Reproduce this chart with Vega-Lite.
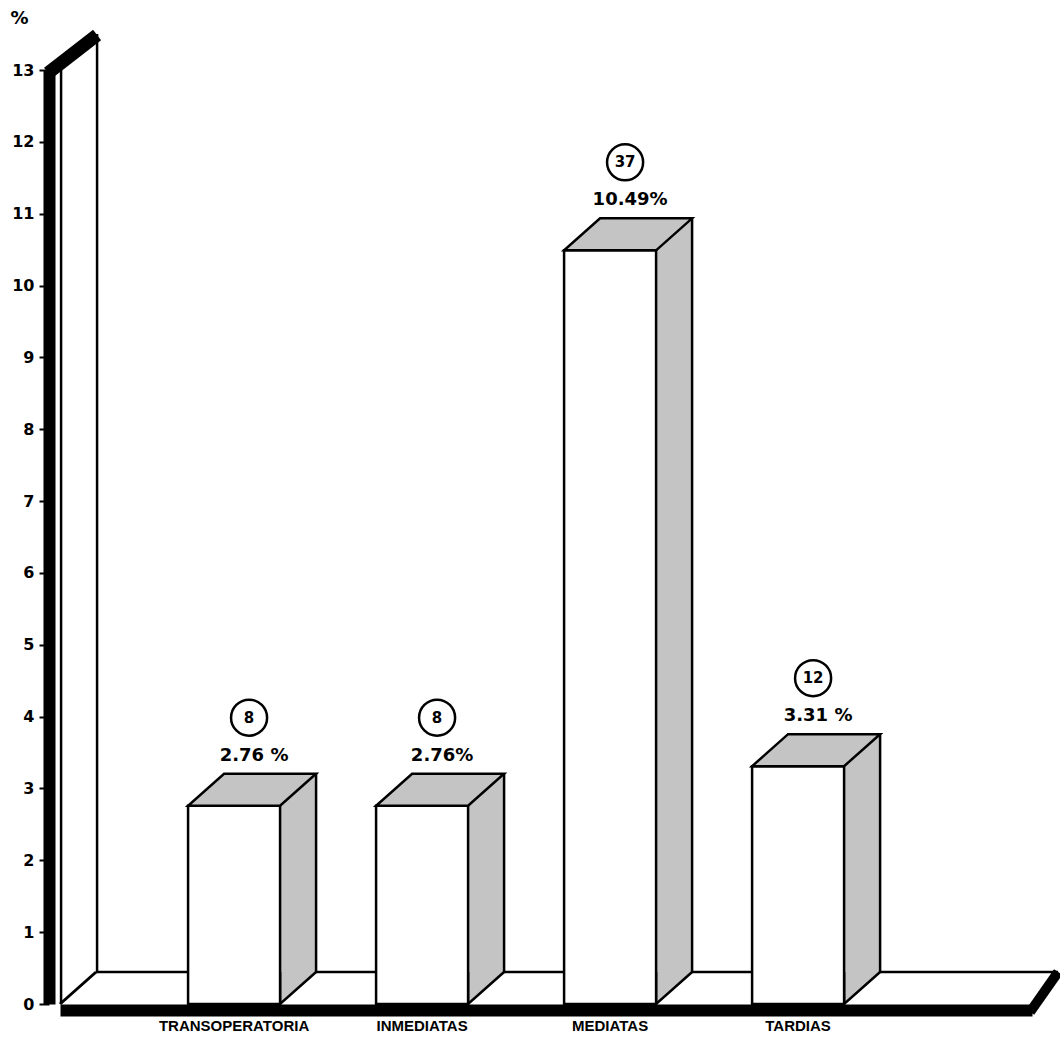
{
  "$schema": "https://vega.github.io/schema/vega-lite/v6.json",
  "width": 972,
  "height": 934,
  "autosize": {"type": "none"},
  "padding": {"left": 60, "top": 70, "right": 28, "bottom": 38},
  "background": "white",
  "config": {"view": {"stroke": null}, "font": "DejaVu Sans"},
  "data": {"values": [
    {"categoria": "TRANSOPERATORIA", "casos": 8, "porcentaje": 2.76, "etiqueta": "2.76 %"},
    {"categoria": "INMEDIATAS", "casos": 8, "porcentaje": 2.76, "etiqueta": "2.76%"},
    {"categoria": "MEDIATAS", "casos": 37, "porcentaje": 10.49, "etiqueta": "10.49%"},
    {"categoria": "TARDIAS", "casos": 12, "porcentaje": 3.31, "etiqueta": "3.31 %"}
  ]},
  "encoding": {
    "x": {
      "field": "categoria", "type": "nominal", "sort": null,
      "scale": {"domain": ["TRANSOPERATORIA", "INMEDIATAS", "MEDIATAS", "TARDIAS"], "paddingInner": 0, "paddingOuter": 0.585, "align": 0.364},
      "axis": {"title": null, "labelAngle": 0, "offset": 6, "domainWidth": 12, "domainColor": "black", "domainCap": "butt", "ticks": false, "labelPadding": 8, "labelFont": "Liberation Sans", "labelFontWeight": "bold", "labelFontSize": 15, "labelColor": "black", "zindex": 1}
    },
    "y": {
      "field": "porcentaje", "type": "quantitative",
      "scale": {"domain": [0, 13], "nice": false},
      "axis": {"values": [0,1,2,3,4,5,6,7,8,9,10,11,12,13], "offset": 11, "domainWidth": 12, "domainColor": "black", "domainCap": "butt", "tickSize": 10, "tickWidth": 2, "tickColor": "black", "labelPadding": 5, "labelFont": "DejaVu Sans", "labelFontWeight": "bold", "labelFontSize": 16, "labelColor": "black", "grid": false, "title": "%", "titleAngle": 0, "titleX": -30, "titleY": -52, "titleAlign": "center", "titleBaseline": "middle", "titleFontSize": 18, "titleFontWeight": "bold", "titleColor": "black", "zindex": 1}
    }
  },
  "layer": [
    {
      "transform": [{"filter": "datum.categoria == 'TRANSOPERATORIA'"}],
      "mark": {"type": "rule", "color": "black", "strokeWidth": 2.5, "xOffset": -138, "x2Offset": 260, "yOffset": -32},
      "encoding": {"x": {"datum": "TRANSOPERATORIA"}, "x2": {"datum": "TARDIAS"}, "y": {"datum": 0}}
    },
    {
      "transform": [{"filter": "datum.categoria == 'TRANSOPERATORIA'"}],
      "mark": {"type": "rule", "color": "black", "strokeWidth": 3, "xOffset": -174, "x2Offset": -138, "y2Offset": -32},
      "encoding": {"x": {"datum": "TRANSOPERATORIA"}, "x2": {"datum": "TRANSOPERATORIA"}, "y": {"datum": 0}, "y2": {"datum": 0}}
    },
    {
      "transform": [{"filter": "datum.categoria == 'TRANSOPERATORIA'"}],
      "mark": {"type": "rule", "color": "black", "strokeWidth": 10, "xOffset": 232, "x2Offset": 260, "yOffset": 8, "y2Offset": -32},
      "encoding": {"x": {"datum": "TARDIAS"}, "x2": {"datum": "TARDIAS"}, "y": {"datum": 0}, "y2": {"datum": 0}}
    },
    {
      "transform": [{"filter": "datum.categoria == 'TRANSOPERATORIA'"}],
      "mark": {"type": "rule", "color": "black", "strokeWidth": 2.5, "xOffset": -137, "yOffset": -32, "y2Offset": -36},
      "encoding": {"x": {"datum": "TRANSOPERATORIA"}, "y": {"datum": 0}, "y2": {"datum": 13}}
    },
    {
      "transform": [{"filter": "datum.categoria == 'TRANSOPERATORIA'"}],
      "mark": {"type": "rule", "color": "black", "strokeWidth": 2.5, "xOffset": -173},
      "encoding": {"x": {"datum": "TRANSOPERATORIA"}, "y": {"datum": 0}, "y2": {"datum": 13}}
    },
    {
      "transform": [{"filter": "datum.categoria == 'TRANSOPERATORIA'"}],
      "mark": {"type": "rule", "color": "black", "strokeWidth": 13, "xOffset": -186, "x2Offset": -137, "yOffset": 3, "y2Offset": -35},
      "encoding": {"x": {"datum": "TRANSOPERATORIA"}, "x2": {"datum": "TRANSOPERATORIA"}, "y": {"datum": 13}, "y2": {"datum": 13}}
    },
    {
      "mark": {"type": "bar", "width": 36, "xOffset": 64, "yOffset": -32, "y2Offset": -32, "fill": "#c4c4c4", "strokeWidth": 0},
      "encoding": {"y2": {"datum": 0}}
    },
    {
      "mark": {"type": "rule", "color": "black", "strokeWidth": 2.5, "xOffset": 82, "yOffset": -32, "y2Offset": -32},
      "encoding": {"y2": {"datum": 0}}
    },
    {
      "mark": {"type": "point", "shape": "M 0.92 -0.64 L 0.92 0 L 1.64 -0.64", "size": 10000, "filled": true, "fill": "#c4c4c4", "stroke": "black", "strokeWidth": 2.5, "opacity": 1},
      "encoding": {"y": {"datum": 0}}
    },
    {
      "mark": {"type": "bar", "width": 92, "fill": "white", "stroke": "black", "strokeWidth": 2.5},
      "encoding": {"y2": {"datum": 0}}
    },
    {
      "mark": {"type": "point", "shape": "M -0.92 0 L 0.92 0 L 1.64 -0.64 L -0.2 -0.64 Z", "size": 10000, "filled": true, "fill": "#c4c4c4", "stroke": "black", "strokeWidth": 2.5, "opacity": 1}
    },
    {
      "mark": {"type": "text", "dx": 20, "dy": -50, "fontSize": 18, "fontWeight": "bold", "color": "black", "baseline": "middle"},
      "encoding": {"text": {"field": "etiqueta"}}
    },
    {
      "mark": {"type": "point", "shape": "circle", "size": 1300, "filled": false, "stroke": "black", "strokeWidth": 2.5, "opacity": 1, "xOffset": 15, "yOffset": -88}
    },
    {
      "mark": {"type": "text", "dx": 15, "dy": -88, "fontSize": 15, "fontWeight": "bold", "color": "black", "baseline": "middle"},
      "encoding": {"text": {"field": "casos"}}
    }
  ]
}
